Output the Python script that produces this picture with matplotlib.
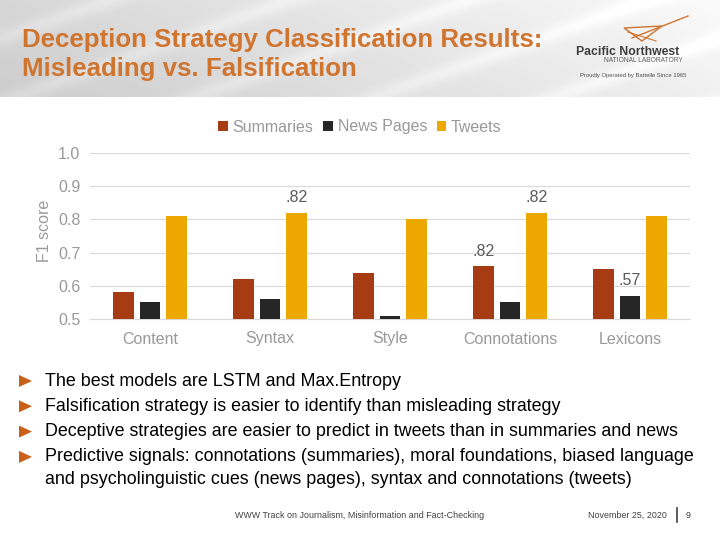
import numpy as np
import matplotlib.pyplot as plt
from matplotlib.patches import Polygon

plt.rcParams['font.family'] = ['Liberation Sans', 'DejaVu Sans']

categories = ['Content', 'Syntax', 'Style', 'Connotations', 'Lexicons']
summaries = [0.58, 0.62, 0.64, 0.66, 0.65]
news_pages = [0.55, 0.56, 0.51, 0.55, 0.57]
tweets = [0.81, 0.82, 0.80, 0.82, 0.81]
yticks = [0.5, 0.6, 0.7, 0.8, 0.9, 1.0]

# (category index, series, label text)
callouts = [(1, 'tweets', '.82'), (3, 'summaries', '.82'),
            (3, 'tweets', '.82'), (4, 'news', '.57')]

bullets = [
    ['The best models are LSTM and Max.Entropy'],
    ['Falsification strategy is easier to identify than misleading strategy'],
    ['Deceptive strategies are easier to predict in tweets than in summaries and news'],
    ['Predictive signals: connotations (summaries), moral foundations, biased language',
     'and psycholinguistic cues (news pages), syntax and connotations (tweets)'],
]

c_sum, c_news, c_tw = '#A63B14', '#262626', '#EDA800'
grey = '#999999'

fig = plt.figure(figsize=(7.2, 5.4), dpi=100)
W, H = 720, 540

# --- header band ---
bg = fig.add_axes([0, 1 - 97 / H, 1, 97 / H])
xx, yy = np.meshgrid(np.linspace(0, 1, 400), np.linspace(0, 1, 60))
shade = 0.80 + 0.14 * xx + 0.04 * yy
shade += 0.05 * np.exp(-((xx * 4 - yy * 1.5 - 0.6) % 1.0 - 0.5) ** 2 / 0.02)
shade = np.clip(shade, 0, 1)
bg.imshow(shade, cmap='gray', vmin=0, vmax=1, aspect='auto', origin='lower',
          extent=[0, 1, 0, 1])
bg.axis('off')

fig.text(22 / W, 1 - 40 / H, 'Deception Strategy Classification Results:',
         fontsize=18.6, fontweight='bold', color='#D07530', va='center')
fig.text(22 / W, 1 - 69 / H, 'Misleading vs. Falsification',
         fontsize=18.6, fontweight='bold', color='#D07530', va='center')

# overlay in pixel coords
lg = fig.add_axes([0, 0, 1, 1], facecolor='none')
lg.set_xlim(0, W)
lg.set_ylim(H, 0)
lg.axis('off')

# logo
lg.add_patch(Polygon([[624, 28], [642, 41], [662, 26]], closed=True,
                     fill=False, edgecolor='#D07530', lw=1.0))
lg.plot([632, 688], [38, 16], color='#D07530', lw=1.0)
lg.plot([628, 656], [32, 41], color='#D07530', lw=0.8)
lg.text(628, 52, 'Pacific Northwest', fontsize=8.8, fontweight='bold',
        color='#404040', ha='center', va='center')
lg.text(643, 61, 'NATIONAL LABORATORY', fontsize=4.8, color='#606060',
        ha='center', va='center')
lg.text(633, 76, 'Proudly Operated by Battelle Since 1965', fontsize=4.2,
        color='#505050', ha='center', va='center')

# footer
lg.text(360, 515, 'WWW Track on Journalism, Misinformation and Fact-Checking',
        fontsize=6.4, color='#404040', ha='center', va='center')
lg.text(627, 515, 'November 25, 2020', fontsize=6.4, color='#404040',
        ha='center', va='center')
lg.plot([677, 677], [508, 522], color='#404040', lw=1.2)
lg.text(688, 515, '9', fontsize=6.4, color='#404040', ha='center', va='center')

# bullets
for i, lines in enumerate(bullets):
    y = 381 + i * 25.3
    lg.add_patch(Polygon([[19, y - 6], [32, y], [19, y + 6]], closed=True,
                         facecolor='#C8601A', edgecolor='none'))
    for j, line in enumerate(lines):
        lg.text(45, y + j * 23, line, fontsize=12.9, color='black',
                ha='left', va='center')

# --- chart ---
ax = fig.add_axes([90 / W, 1 - 319 / H, 600 / W, 166 / H])
x = np.arange(len(categories))
bw = 0.17
off = 0.22
series = {'summaries': (summaries, -off, c_sum, 'Summaries'),
          'news': (news_pages, 0, c_news, 'News Pages'),
          'tweets': (tweets, off, c_tw, 'Tweets')}
for key, (vals, dx, col, lab) in series.items():
    ax.bar(x + dx, np.array(vals) - 0.5, bw, bottom=0.5, color=col, label=lab,
           zorder=3)

for ci, key, txt in callouts:
    vals, dx, _, _ = series[key]
    ax.text(ci + dx, vals[ci] + 0.022, txt, fontsize=11.5, color='#595959',
            ha='center', va='bottom')

ax.set_xlim(-0.5, len(categories) - 0.5)
ax.set_ylim(0.5, 1.0)
ax.set_yticks(yticks)
ax.set_yticklabels([f'{t:.1f}' for t in yticks])
ax.set_xticks(x)
ax.set_xticklabels(categories)
ax.grid(axis='y', color='#D9D9D9', lw=0.8, zorder=0)
for s in ax.spines.values():
    s.set_visible(False)
ax.spines['bottom'].set_visible(True)
ax.spines['bottom'].set_color('#D9D9D9')
ax.tick_params(length=0, labelsize=11.5, colors=grey)
ax.tick_params(axis='y', pad=7)
ax.tick_params(axis='x', pad=9)
ax.set_ylabel('F1 score', fontsize=11.5, color=grey)
ax.yaxis.set_label_coords((52 - 90) / 600, 0.53)

ax.legend(loc='center', bbox_to_anchor=(360 / W, 1 - 127 / H),
          bbox_transform=fig.transFigure, ncol=3, frameon=False,
          fontsize=11.5, handlelength=0.6, handleheight=0.6, handletextpad=0.3,
          columnspacing=0.6, labelcolor=grey)

fig.savefig('out.png', dpi=100)
